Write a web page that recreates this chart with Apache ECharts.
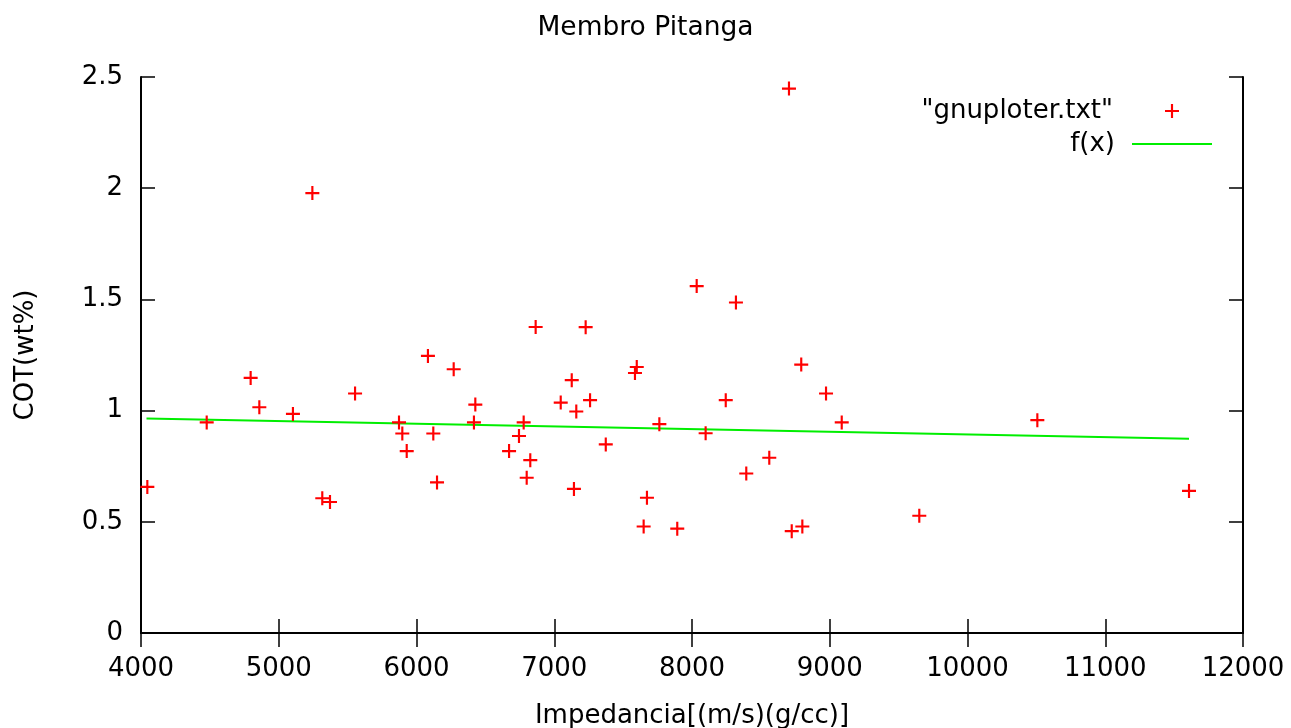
<!DOCTYPE html>
<html>
<head>
<meta charset="utf-8">
<title>Membro Pitanga</title>
<script src="https://cdn.jsdelivr.net/npm/echarts@6/dist/echarts.min.js"></script>
<style>
  html, body { margin: 0; padding: 0; background: #ffffff; }
  #chart { width: 1291px; height: 728px; }
</style>
</head>
<body>
<div id="chart"></div>
<script>
// Impedance (x) and total organic carbon (y) for each sample
const impedancia = [
  4046, 4477, 4796, 4859, 5103, 5244, 5316, 5372, 5554, 5873,
  5897, 5929, 6083, 6122, 6149, 6270, 6427, 6417, 6672, 6744,
  6778, 6800, 6826, 6865, 7047, 7127, 7143, 7160, 7228, 7260,
  7374, 7586, 7599, 7649, 7673, 7763, 7893, 8034, 8099, 8245,
  8319, 8394, 8561, 8704, 8724, 8793, 8801, 8973, 9087, 9650,
  10507, 11608
];
const cot = [
  0.657, 0.947, 1.147, 1.015, 0.985, 1.978, 0.606, 0.589, 1.077, 0.947,
  0.897, 0.818, 1.246, 0.897, 0.677, 1.186, 1.027, 0.947, 0.818, 0.886,
  0.947, 0.698, 0.777, 1.376, 1.036, 1.137, 0.648, 0.996, 1.375, 1.047,
  0.848, 1.169, 1.196, 0.479, 0.608, 0.939, 0.469, 1.560, 0.898, 1.047,
  1.486, 0.717, 0.788, 2.448, 0.458, 1.207, 0.479, 1.077, 0.947, 0.527,
  0.957, 0.639
];

// Fitted line f(x): end points over the sampled range
const fitX = [4040, 11608];
const fitY = [0.965, 0.873];

// Tick values
const xTicks = [4000, 5000, 6000, 7000, 8000, 9000, 10000, 11000, 12000];
const yTicks = [0, 0.5, 1, 1.5, 2, 2.5];

const seriesNames = ['"gnuploter.txt"', 'f(x)'];

const points = impedancia.map((x, i) => [x, cot[i]]);
const fitLine = fitX.map((x, i) => [x, fitY[i]]);

const FONT = 'DejaVu Sans';
const FS = 26;
const plusPath = 'path://M0,5.5h13v2h-13z M5.5,0h2v13h-2z';

const chart = echarts.init(document.getElementById('chart'), null, { renderer: 'canvas' });

const tickStyle = { inside: true, length: 14, lineStyle: { color: '#000', width: 1.5 } };
const frameLine = { show: true, lineStyle: { color: '#000', width: 2 } };
const textBase = { fontFamily: FONT, fontSize: FS, color: '#000' };

chart.setOption({
  backgroundColor: '#ffffff',
  animation: false,
  title: {
    text: 'Membro Pitanga',
    left: 'center',
    top: 15,
    padding: 0,
    textStyle: Object.assign({ fontWeight: 'normal' }, textBase, { fontSize: 26.5 })
  },
  grid: { left: 141, right: 48, top: 77, bottom: 95, containLabel: false, outerBoundsMode: 'none' },
  legend: [
    {
      data: [seriesNames[0]],
      right: 112,
      top: 98,
      padding: 0,
      align: 'right',
      itemWidth: 14,
      itemHeight: 14,
      textStyle: Object.assign({ lineHeight: 26, padding: [0, 47, 0, 0] }, textBase)
    },
    {
      data: [{ name: seriesNames[1], icon: 'rect' }],
      right: 79,
      top: 131,
      padding: 0,
      align: 'right',
      itemWidth: 80,
      itemHeight: 2,
      textStyle: Object.assign({ lineHeight: 26, padding: [0, 12, 0, 0] }, textBase)
    }
  ],
  xAxis: [
    {
      type: 'value',
      min: 4000,
      max: 12000,
      interval: 1000,
      position: 'bottom',
      name: 'Impedancia[(m/s)(g/cc)]',
      nameLocation: 'middle',
      nameGap: 70,
      nameTextStyle: textBase,
      axisLine: frameLine,
      axisTick: tickStyle,
      axisLabel: Object.assign({
        margin: 23,
        formatter: v => (xTicks.includes(v) ? String(v) : '')
      }, textBase),
      splitLine: { show: false }
    },
    {
      type: 'value',
      min: 4000,
      max: 12000,
      interval: 1000,
      position: 'top',
      axisLine: frameLine,
      axisTick: tickStyle,
      axisLabel: { show: false },
      splitLine: { show: false }
    }
  ],
  yAxis: [
    {
      type: 'value',
      min: 0,
      max: 2.5,
      interval: 0.5,
      position: 'left',
      name: 'COT(wt%)',
      nameLocation: 'middle',
      nameGap: 102,
      nameTextStyle: textBase,
      axisLine: frameLine,
      axisTick: tickStyle,
      axisLabel: Object.assign({
        margin: 18,
        formatter: v => (yTicks.includes(v) ? String(v) : '')
      }, textBase),
      splitLine: { show: false }
    },
    {
      type: 'value',
      min: 0,
      max: 2.5,
      interval: 0.5,
      position: 'right',
      axisLine: frameLine,
      axisTick: tickStyle,
      axisLabel: { show: false },
      splitLine: { show: false }
    }
  ],
  series: [
    {
      name: seriesNames[0],
      type: 'scatter',
      xAxisIndex: 0,
      yAxisIndex: 0,
      symbol: plusPath,
      symbolSize: 14,
      itemStyle: { color: '#ff0000', opacity: 1 },
      data: points,
      z: 3
    },
    {
      name: seriesNames[1],
      type: 'line',
      xAxisIndex: 0,
      yAxisIndex: 0,
      showSymbol: false,
      symbol: 'none',
      lineStyle: { color: '#00ee00', width: 2 },
      itemStyle: { color: '#00ee00' },
      data: fitLine,
      z: 2
    }
  ]
});
</script>
</body>
</html>
